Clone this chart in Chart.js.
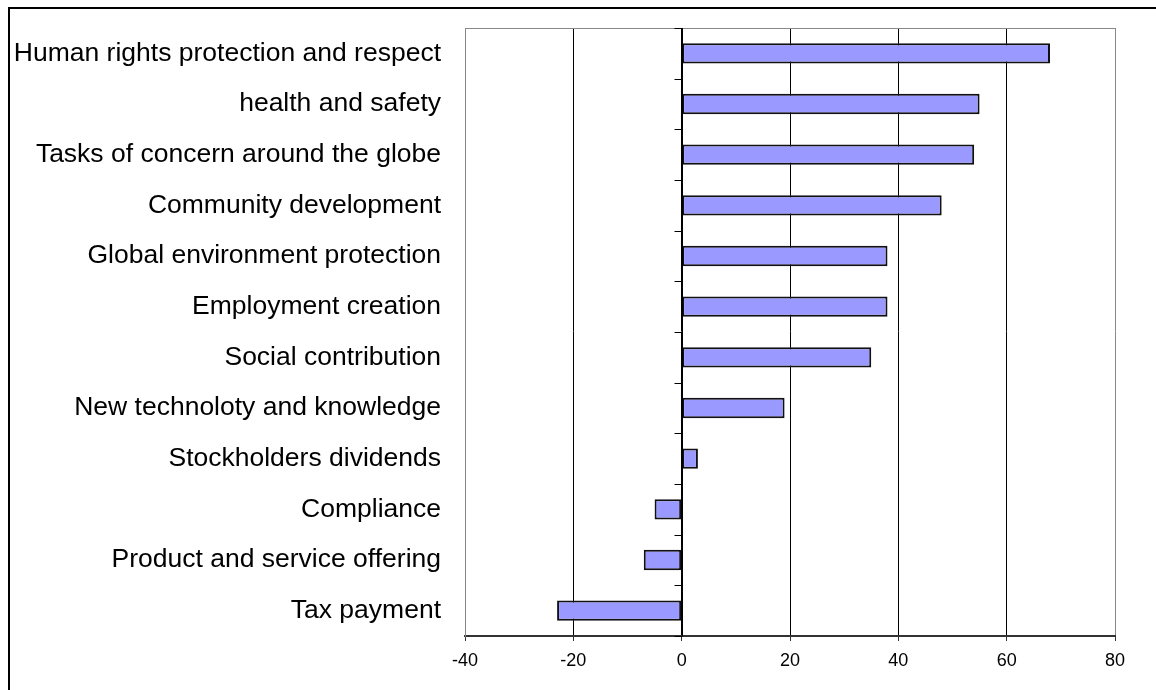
<!DOCTYPE html>
<html>
<head>
<meta charset="utf-8">
<script src="https://cdn.jsdelivr.net/npm/chart.js@4"></script>
<style>
  html, body { margin: 0; padding: 0; background: #fff; }
  #wrap { width: 1156px; height: 690px; }
</style>
</head>
<body>
<div id="wrap"><canvas id="csrChart" width="1156" height="690"></canvas></div>
<script>
var categories = ['Human rights protection and respect', 'health and safety', 'Tasks of concern around the globe',
  'Community development', 'Global environment protection', 'Employment creation', 'Social contribution',
  'New technoloty and knowledge', 'Stockholders dividends', 'Compliance', 'Product and service offering', 'Tax payment'];
var values = [68, 55, 54, 48, 38, 38, 35, 19, 3, -5, -7, -23];
var xTicks = [-40, -20, 0, 20, 40, 60, 80];

// frame round the picture, top line of the plot, ticks on the zero line
var extras = {
  id: 'extras',
  beforeDraw: function(chart) {
    var ctx = chart.ctx;
    ctx.save();
    ctx.strokeStyle = '#000';
    ctx.lineWidth = 2;
    ctx.beginPath();
    ctx.moveTo(9, 700);
    ctx.lineTo(9, 8);
    ctx.lineTo(1160, 8);
    ctx.stroke();
    ctx.restore();
  },
  afterDatasetsDraw: function(chart) {
    var ctx = chart.ctx, a = chart.chartArea;
    var x = chart.scales.x, y = chart.scales.y;
    ctx.save();
    ctx.strokeStyle = '#888';
    ctx.lineWidth = 1;
    ctx.beginPath();
    ctx.moveTo(a.left, a.top + 0.5);
    ctx.lineTo(a.right, a.top + 0.5);
    ctx.stroke();
    var x0 = Math.round(x.getPixelForValue(0)) + 0.5;
    ctx.strokeStyle = '#000';
    ctx.beginPath();
    ctx.moveTo(x0, a.top);
    ctx.lineTo(x0, a.bottom);
    for (var i = 0; i <= categories.length; i++) {
      var py = Math.round(y.getPixelForValue(i - 0.5)) + 0.5;
      ctx.moveTo(x0 - 8, py);
      ctx.lineTo(x0, py);
    }
    ctx.stroke();
    ctx.restore();
  }
};

new Chart(document.getElementById('csrChart').getContext('2d'), {
  type: 'bar',
  data: {
    labels: categories,
    datasets: [{
      data: values,
      backgroundColor: '#9999FF',
      borderColor: '#111',
      borderWidth: 2,
      borderSkipped: false,
      barPercentage: 0.4,
      categoryPercentage: 1
    }]
  },
  options: {
    indexAxis: 'y',
    responsive: false,
    animation: false,
    layout: { padding: { left: 0, right: 41, top: 28, bottom: 0 } },
    plugins: { legend: { display: false }, tooltip: { enabled: false } },
    scales: {
      x: {
        min: -40, max: 80,
        afterBuildTicks: function(s) { s.ticks = xTicks.map(function(v) { return { value: v }; }); },
        afterFit: function(s) { s.height = 54; s.paddingLeft = 0; s.paddingRight = 0; },
        grid: {
          color: function(c) { return (c.tick && (c.tick.value === -40 || c.tick.value === 80)) ? '#888' : '#000'; },
          tickColor: '#333',
          tickLength: 5,
          lineWidth: 1
        },
        border: { color: '#333', width: 2 },
        ticks: { color: '#000', padding: 9, maxRotation: 0, font: { family: 'Liberation Sans, Arial', size: 18 } }
      },
      y: {
        afterFit: function(s) { s.width = 465; s.paddingTop = 0; s.paddingBottom = 0; },
        grid: { display: false, drawTicks: false },
        border: { color: '#888', width: 1 },
        ticks: { color: '#000', padding: 24, font: { family: 'Liberation Sans, Arial', size: 26.5 } }
      }
    }
  },
  plugins: [extras]
});
</script>
</body>
</html>
